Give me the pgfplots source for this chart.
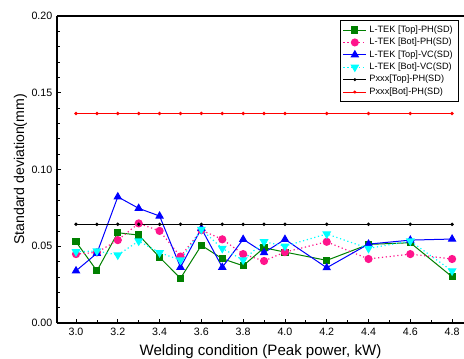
\documentclass[border=0pt]{standalone}
\usepackage{fontspec}
\setmainfont{Liberation Sans}
\usepackage{pgfplots}
\pgfplotsset{compat=1.18}
\definecolor{cgreen}{RGB}{0,128,0}
\definecolor{cpink}{RGB}{255,20,140}
\definecolor{cblue}{RGB}{0,0,255}
\definecolor{ccyan}{RGB}{0,255,255}
\definecolor{cred}{RGB}{255,0,0}
\begin{document}
\begin{tikzpicture}
\begin{axis}[
  scale only axis,
  width=305.25pt, height=230.25pt,
  at={(0,0)}, anchor=south west,
  xmin=2.909, xmax=4.857,
  ymin=0, ymax=0.2,
  axis x line=box,
  axis y line=left,
  y axis line style={-},
  x axis line style={-},
  axis line style={line width=0.8pt},
  xtick={3.0,3.2,...,4.81},
  minor x tick num=1,
  ytick={0,0.05,0.10,0.15,0.20},
  minor y tick num=4,
  tick align=inside,
  xtick pos=bottom, ytick pos=left,
  major tick length=3pt, minor tick length=2pt,
  tick style={black, line width=0.6pt},
  /pgf/number format/assume math mode=true,
  xticklabel style={/pgf/number format/.cd, fixed, fixed zerofill, precision=1},
  yticklabel style={/pgf/number format/.cd, fixed, fixed zerofill, precision=2},
  ticklabel style={font=\fontsize{8}{9.5}\selectfont},
  xlabel={Welding condition (Peak power, kW)},
  ylabel={Standard deviation(mm)},
  ylabel shift=-3.5pt,
  xlabel style={font=\fontsize{11.3}{13}\selectfont},
  ylabel style={font=\fontsize{10.6}{12}\selectfont},
  legend style={at={(rel axis cs:0.695,0.987)}, anchor=north west,
    font=\fontsize{6.9}{8}\selectfont, draw=black, line width=0.6pt,
    row sep=-1.2pt, inner sep=2pt},
  legend cell align=left,
  legend image post style={line width=0.8pt},
  clip=false,
]
\addplot[cgreen, line width=0.75pt, mark=square*, mark size=2.3pt, mark options={solid}] coordinates {
(3.0,0.0529)(3.1,0.0340)(3.2,0.0588)(3.3,0.0573)(3.4,0.0428)(3.5,0.0291)(3.6,0.0506)(3.7,0.0419)(3.8,0.0373)(3.9,0.0490)(4.0,0.0462)(4.2,0.0408)(4.4,0.0512)(4.6,0.0523)(4.8,0.0301)};
\addlegendentry{L-TEK [Top]-PH(SD)}
\addplot[cpink, line width=0.9pt, dotted, mark=*, mark size=2.6pt, mark options={solid}] coordinates {
(3.0,0.0449)(3.1,0.0460)(3.2,0.0540)(3.3,0.0649)(3.4,0.0600)(3.5,0.0433)(3.6,0.0605)(3.7,0.0545)(3.8,0.0449)(3.9,0.0404)(4.0,0.0462)(4.2,0.0529)(4.4,0.0417)(4.6,0.0449)(4.8,0.0417)};
\addlegendentry{L-TEK [Bot]-PH(SD)}
\addplot[cblue, line width=0.75pt, mark=triangle*, mark size=3pt, mark options={solid}] coordinates {
(3.0,0.0340)(3.1,0.0454)(3.2,0.0822)(3.3,0.0747)(3.4,0.0697)(3.5,0.0363)(3.6,0.0616)(3.7,0.0363)(3.8,0.0545)(3.9,0.0458)(4.0,0.0545)(4.2,0.0360)(4.4,0.0514)(4.6,0.0540)(4.8,0.0547)};
\addlegendentry{L-TEK [Top]-VC(SD)}
\addplot[ccyan, line width=0.9pt, dotted, mark=triangle*, mark size=3pt, mark options={solid, rotate=180}] coordinates {
(3.0,0.0464)(3.1,0.0469)(3.2,0.0443)(3.3,0.0534)(3.4,0.0458)(3.5,0.0410)(3.6,0.0610)(3.7,0.0486)(3.8,0.0410)(3.9,0.0529)(4.0,0.0501)(4.2,0.0580)(4.4,0.0486)(4.6,0.0534)(4.8,0.0339)};
\addlegendentry{L-TEK [Bot]-VC(SD)}
\addplot[black, line width=1pt, mark=*, mark size=0.7pt] coordinates {
(3.0,0.0643)(3.1,0.0643)(3.2,0.0643)(3.3,0.0643)(3.4,0.0643)(3.5,0.0643)(3.6,0.0643)(3.7,0.0643)(3.8,0.0643)(3.9,0.0643)(4.0,0.0643)(4.2,0.0643)(4.4,0.0643)(4.6,0.0643)(4.8,0.0643)};
\addlegendentry{Pxxx[Top]-PH(SD)}
\addplot[cred, line width=1pt, mark=*, mark size=0.7pt] coordinates {
(3.0,0.1365)(3.1,0.1365)(3.2,0.1365)(3.3,0.1365)(3.4,0.1365)(3.5,0.1365)(3.6,0.1365)(3.7,0.1365)(3.8,0.1365)(3.9,0.1365)(4.0,0.1365)(4.2,0.1365)(4.4,0.1365)(4.6,0.1365)(4.8,0.1365)};
\addlegendentry{Pxxx[Bot]-PH(SD)}
\end{axis}
\pgfresetboundingbox
\path[use as bounding box] (-42.75pt,-26.25pt) rectangle (305.25pt,242.25pt);
\end{tikzpicture}
\end{document}
